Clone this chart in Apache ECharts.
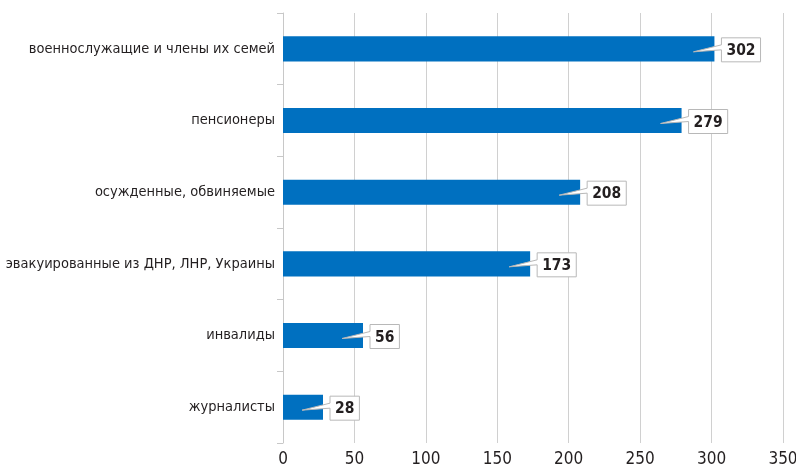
<!DOCTYPE html>
<html>
<head>
<meta charset="utf-8">
<script src="https://cdn.jsdelivr.net/npm/echarts@6/dist/echarts.min.js"></script>
<style>
  html, body { margin: 0; padding: 0; background: #fff; }
  #chart { width: 796px; height: 467px; }
</style>
</head>
<body>
<div id="chart"></div>
<script>
// категории сверху вниз
const categories = [
  "военнослужащие и члены их семей",
  "пенсионеры",
  "осужденные, обвиняемые",
  "эвакуированные из ДНР, ЛНР, Украины",
  "инвалиды",
  "журналисты"
];
const values = [302, 279, 208, 173, 56, 28];
const xMin = 0;
const xMax = 350;
const xStep = 50;

const narrow = '"Liberation Sans Narrow", "DejaVu Sans Condensed", "Roboto", sans-serif';
const labelFont = "bold 15.5px " + narrow;

const chart = echarts.init(document.getElementById("chart"));

function renderBar(params, api) {
  const cat = api.value(1);
  const val = api.value(0);
  const start = api.coord([0, cat]);
  const end = api.coord([val, cat]);
  const band = api.size([0, 1])[1];
  const h = band * 0.35;
  const cy = start[1];
  const ex = end[0];

  const txt = String(val);
  const tw = new echarts.graphic.Text({ style: { text: txt, font: labelFont } })
    .getBoundingRect().width;

  // выноска
  const L = ex + 7;
  const R = L + tw + 10;
  const T = cy - 11;
  const B = cy + 13;
  const callout = [
    [L, T], [R, T], [R, B], [L, B],
    [L, cy + 1], [ex - 21, cy + 3], [L, cy - 4]
  ];

  return {
    type: "group",
    children: [
      {
        type: "rect",
        shape: { x: start[0], y: cy - h / 2, width: ex - start[0], height: h },
        style: { fill: "#0070C0" }
      },
      {
        type: "polygon",
        shape: { points: callout },
        style: { fill: "#fff", stroke: "#b8b8b8", lineWidth: 1 }
      },
      {
        type: "text",
        style: {
          text: txt,
          x: (L + R) / 2,
          y: (T + B) / 2 + 1,
          align: "center",
          verticalAlign: "middle",
          font: labelFont,
          fill: "#231f20"
        }
      }
    ]
  };
}

chart.setOption({
  backgroundColor: "#fff",
  animation: false,
  grid: {
    left: 283,
    right: 13,
    top: 13,
    bottom: 24,
    outerBoundsMode: "none"
  },
  xAxis: {
    type: "value",
    min: xMin,
    max: xMax,
    interval: xStep,
    axisLine: { show: false },
    axisTick: { show: false },
    axisLabel: {
      margin: 8,
      color: "#231f20",
      fontSize: 17,
      fontFamily: narrow
    },
    splitLine: {
      lineStyle: { color: "#d0d0d0", width: 1 }
    }
  },
  yAxis: {
    type: "category",
    inverse: true,
    data: categories,
    axisLine: { lineStyle: { color: "#c8c8c8" } },
    axisTick: { show: true, length: 6, lineStyle: { color: "#c8c8c8" } },
    axisLabel: {
      margin: 8,
      color: "#231f20",
      fontSize: 14.5,
      fontFamily: narrow
    }
  },
  series: [
    {
      type: "custom",
      renderItem: renderBar,
      encode: { x: 0, y: 1 },
      data: values.map((v, i) => [v, i])
    }
  ]
});
</script>
</body>
</html>
